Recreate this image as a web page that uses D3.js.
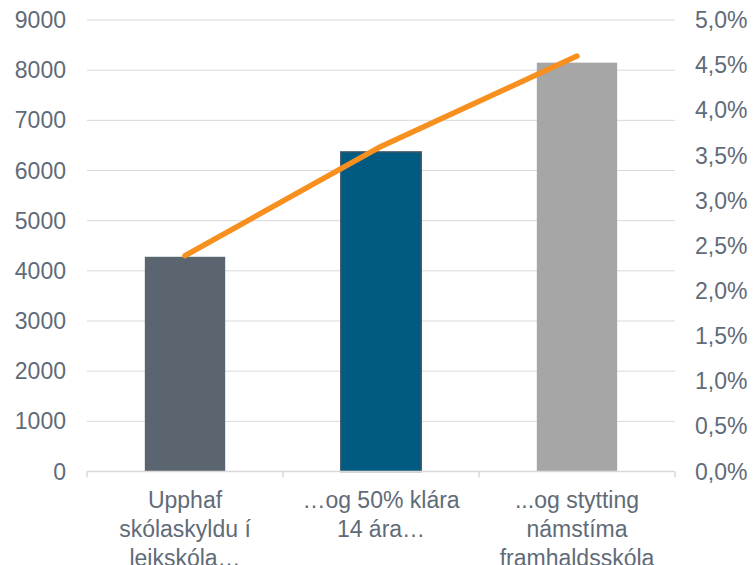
<!DOCTYPE html>
<html>
<head>
<meta charset="utf-8">
<script src="https://cdn.jsdelivr.net/npm/d3@7"></script>
<style>
  html, body { margin: 0; padding: 0; background: #fff; }
  svg text { font-family: "Liberation Sans", Arial, sans-serif; fill: #5f6b78; }
</style>
</head>
<body>
<svg id="chart" width="755" height="565"></svg>
<script>
const categories = [
  ["Upphaf", "skólaskyldu í", "leikskóla…"],
  ["…og 50% klára", "14 ára…"],
  ["...og stytting", "námstíma", "framhaldsskóla"]
];
const barValues = [4280, 6370, 8150];
const lineValues = [0.0239, 0.0360, 0.0460];
const barColors = ["#5a6570", "#005a82", "#a6a6a6"];
const barStrokes = ["none", "#3e5566", "none"];
const leftTicks = [0, 1000, 2000, 3000, 4000, 5000, 6000, 7000, 8000, 9000];
const rightTicks = [0, 0.005, 0.01, 0.015, 0.02, 0.025, 0.03, 0.035, 0.04, 0.045, 0.05];

const svg = d3.select("#chart");
const mLeft = 87, mRight = 675, mTop = 20, mBottom = 471.5;

const x = d3.scaleBand().domain(d3.range(categories.length)).range([mLeft, mRight]).paddingInner(0.59).paddingOuter(0.295);
const yL = d3.scaleLinear().domain([0, 9000]).range([mBottom, mTop]);
const yR = d3.scaleLinear().domain([0, 0.05]).range([mBottom, mTop]);

// gridlines
svg.append("g").selectAll("line").data(leftTicks.filter(d => d > 0)).join("line")
  .attr("x1", mLeft).attr("x2", mRight)
  .attr("y1", d => yL(d)).attr("y2", d => yL(d))
  .attr("stroke", "#d9d9d9").attr("stroke-width", 1);

// bars
svg.append("g").selectAll("rect").data(barValues).join("rect")
  .attr("x", (d, i) => x(i)).attr("width", x.bandwidth())
  .attr("y", d => yL(d)).attr("height", d => yL(0) - yL(d))
  .attr("fill", (d, i) => barColors[i])
  .attr("stroke", (d, i) => barStrokes[i]).attr("stroke-width", 1.5);

// x axis line and ticks
const xAxis = svg.append("g");
xAxis.append("line").attr("x1", mLeft).attr("x2", mRight).attr("y1", mBottom).attr("y2", mBottom)
  .attr("stroke", "#d9d9d9").attr("stroke-width", 1.5);
const bounds = d3.range(categories.length + 1).map(i => mLeft + i * x.step());
xAxis.selectAll("line.tk").data(bounds).join("line").attr("class", "tk")
  .attr("x1", d => d).attr("x2", d => d).attr("y1", mBottom).attr("y2", mBottom + 6)
  .attr("stroke", "#d9d9d9").attr("stroke-width", 1.5);

// category labels
const lab = svg.append("g").selectAll("text").data(categories).join("text")
  .attr("text-anchor", "middle").attr("font-size", 23)
  .attr("x", (d, i) => x(i) + x.bandwidth() / 2).attr("y", 508);
lab.selectAll("tspan").data(d => d).join("tspan")
  .attr("x", function() { return d3.select(this.parentNode).attr("x"); })
  .attr("dy", (d, i) => i === 0 ? 0 : 29)
  .text(d => d);

// left axis labels
svg.append("g").selectAll("text").data(leftTicks).join("text")
  .attr("x", 66).attr("y", d => yL(d)).attr("dy", "0.35em")
  .attr("text-anchor", "end").attr("font-size", 23)
  .text(d => d);

// right axis labels
svg.append("g").selectAll("text").data(rightTicks).join("text")
  .attr("x", 695).attr("y", d => yR(d)).attr("dy", "0.35em")
  .attr("text-anchor", "start").attr("font-size", 23)
  .text(d => (d * 100).toFixed(1).replace(".", ",") + "%");

// line
const line = d3.line().x((d, i) => x(i) + x.bandwidth() / 2).y(d => yR(d));
svg.append("path").datum(lineValues)
  .attr("d", line).attr("fill", "none")
  .attr("stroke", "#f7901e").attr("stroke-width", 5.5)
  .attr("stroke-linecap", "round").attr("stroke-linejoin", "round");
</script>
</body>
</html>
